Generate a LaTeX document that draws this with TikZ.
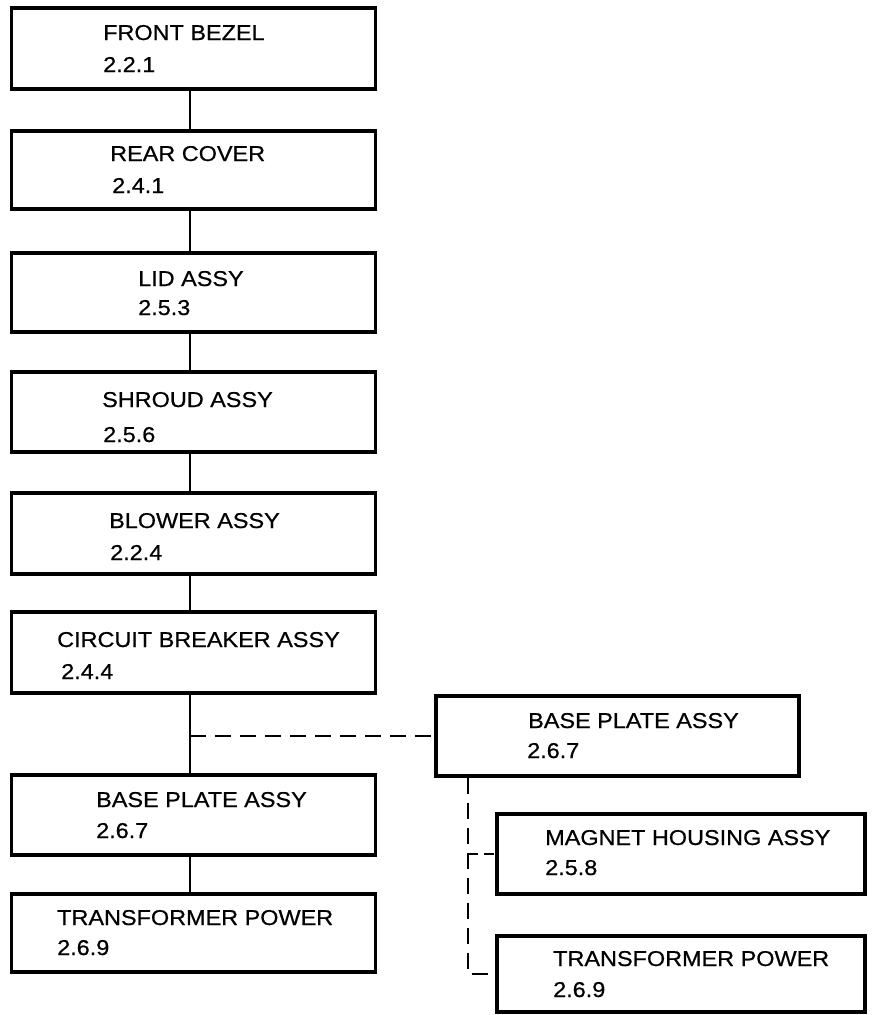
\documentclass[tikz,border=0pt]{standalone}
\usepackage{fontspec}
\setmainfont[FakeStretch=1.09,FakeBold=0.6]{Liberation Sans}
\begin{document}
\begin{tikzpicture}[x=1pt,y=-1pt,
  partbox/.style={draw=black, line width=3.2pt, rectangle, inner sep=0pt, minimum width=364pt},
  lbl/.style={anchor=base west, inner sep=0pt, font=\fontsize{21.5}{26}\selectfont},
  solidlink/.style={draw=black, line width=2.7pt},
  dashlink/.style={draw=black, line width=2.7pt, dash pattern=on 16pt off 9pt}]
\useasboundingbox (0,0) rectangle (871,1015);
% left column boxes
\node[partbox, minimum height=81pt] (b1) at (193.5,48.5) {};
\node[partbox, minimum height=78pt] (b2) at (193.5,170) {};
\node[partbox, minimum height=79pt] (b3) at (193.5,292.5) {};
\node[partbox, minimum height=80pt] (b4) at (193.5,412) {};
\node[partbox, minimum height=81pt] (b5) at (193.5,533.5) {};
\node[partbox, minimum height=81pt] (b6) at (193.5,652.5) {};
\node[partbox, minimum height=80pt] (b7) at (193.5,815) {};
\node[partbox, minimum height=78pt] (b8) at (193.5,933) {};
% right column boxes
\node[partbox, minimum width=363pt, minimum height=80pt] (r1) at (617.5,736) {};
\node[partbox, minimum width=368pt, minimum height=80pt] (r2) at (681,854) {};
\node[partbox, minimum width=368pt, minimum height=76pt] (r3) at (681,974) {};
% texts
\node[lbl] (t1a) at (103,40) {FRONT BEZEL};
\node[lbl] (t1b) at (103,72) {2.2.1};
\node[lbl] (t2a) at (110,161) {REAR COVER};
\node[lbl] (t2b) at (112,193) {2.4.1};
\node[lbl] (t3a) at (138,286) {LID ASSY};
\node[lbl] (t3b) at (138,315) {2.5.3};
\node[lbl] (t4a) at (102,407) {SHROUD ASSY};
\node[lbl] (t4b) at (103,442) {2.5.6};
\node[lbl] (t5a) at (109,528) {BLOWER ASSY};
\node[lbl] (t5b) at (110,560) {2.2.4};
\node[lbl] (t6a) at (57,647) {CIRCUIT BREAKER ASSY};
\node[lbl] (t6b) at (61,679) {2.4.4};
\node[lbl] (t7a) at (96,807) {BASE PLATE ASSY};
\node[lbl] (t7b) at (96,838) {2.6.7};
\node[lbl] (t8a) at (57,925) {TRANSFORMER POWER};
\node[lbl] (t8b) at (57,955) {2.6.9};
\node[lbl] (u1a) at (528,728) {BASE PLATE ASSY};
\node[lbl] (u1b) at (527,758) {2.6.7};
\node[lbl] (u2a) at (545,845) {MAGNET HOUSING ASSY};
\node[lbl] (u2b) at (545,875) {2.5.8};
\node[lbl] (u3a) at (553,966) {TRANSFORMER POWER};
\node[lbl] (u3b) at (553,997) {2.6.9};
% connectors
\coordinate (cx) at (190,0);
\coordinate (vx) at (468,0);
\draw[solidlink] (b1.south -| cx) -- (b2.north -| cx);
\draw[solidlink] (b2.south -| cx) -- (b3.north -| cx);
\draw[solidlink] (b3.south -| cx) -- (b4.north -| cx);
\draw[solidlink] (b4.south -| cx) -- (b5.north -| cx);
\draw[solidlink] (b5.south -| cx) -- (b6.north -| cx);
\draw[solidlink] (b6.south -| cx) -- (b7.north -| cx);
\draw[solidlink] (b7.south -| cx) -- (b8.north -| cx);
\draw[dashlink] (r1.west -| cx) -- (r1.west);
\draw[dashlink] (r1.south -| vx) |- (r3.west);
\draw[dashlink, dash pattern=on 10pt off 6pt] (r2.west -| vx) -- (r2.west);
\end{tikzpicture}
\end{document}
